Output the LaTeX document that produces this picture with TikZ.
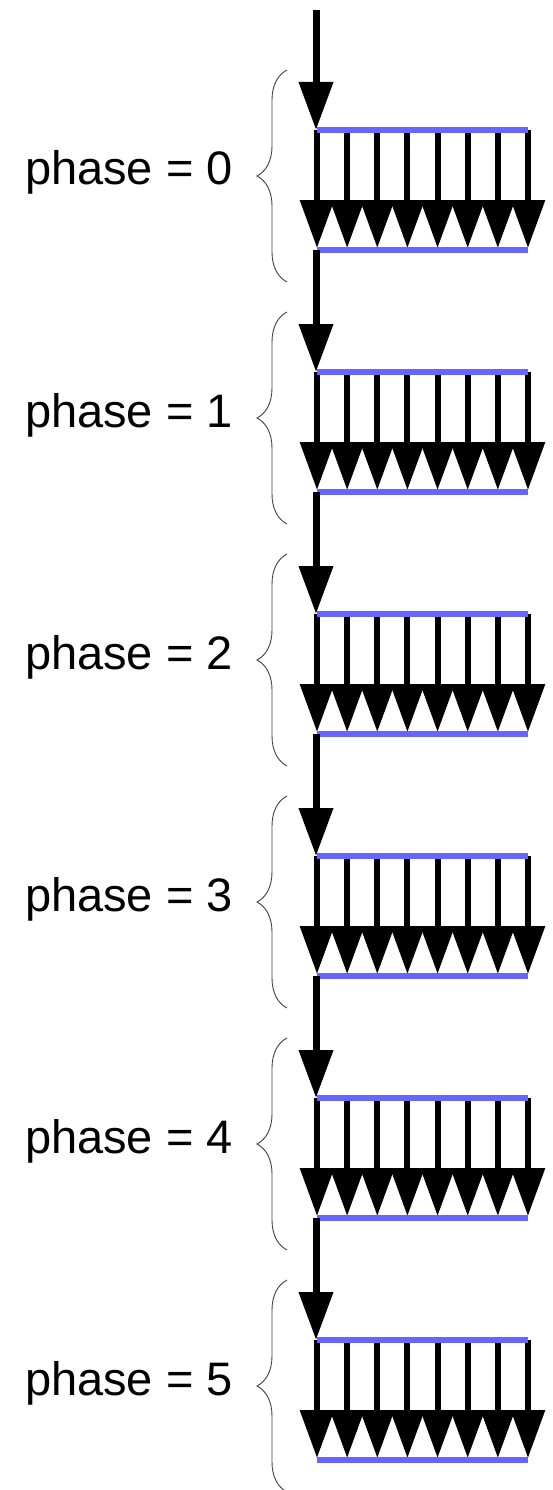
\documentclass[tikz,border=0pt]{standalone}
\usepackage{fontspec}
\setmainfont{Liberation Sans}
\usetikzlibrary{arrows.meta,decorations.pathreplacing}
\definecolor{barblue}{HTML}{6666FF}
\begin{document}
\begin{tikzpicture}[x=1pt,y=-1pt,
  bar/.style={draw=barblue,line width=6pt},
  flow/.style={line width=7pt,-{Triangle[length=48pt,width=33pt]}},
  fan/.style={line width=6pt,-{Triangle[length=48pt,width=33pt]}},
  grp/.style={decorate,decoration={brace,amplitude=30pt},draw=black!75,line width=0.9pt},
  lbl/.style={anchor=base east,inner sep=0pt,font=\fontsize{47pt}{56pt}\selectfont}]
\useasboundingbox (0,0) rectangle (552,1490);
\coordinate (out-1) at (316,10);
\foreach \k [evaluate=\k as \dy using 242*\k, remember=\k as \p (initially -1)] in {0,...,5}{
  \coordinate (in\k) at (316,130+\dy);
  \coordinate (out\k) at (316,250+\dy);
  \coordinate (tl\k) at (317,130+\dy);
  \coordinate (tr\k) at (528,130+\dy);
  \coordinate (bl\k) at (317,250+\dy);
  \coordinate (br\k) at (528,250+\dy);
  \draw[flow] (out\p) -- (in\k);
  \foreach \i in {0,...,7}{
    \coordinate (a\k-\i) at (317+30.14*\i,130+\dy);
    \coordinate (z\k-\i) at (317+30.14*\i,248+\dy);
    \draw[fan] (a\k-\i) -- (z\k-\i);
  }
  \draw[bar] (tl\k) -- (tr\k);
  \draw[bar] (bl\k) -- (br\k);
  \coordinate (gb\k) at (287,282+\dy);
  \coordinate (gt\k) at (287,70+\dy);
  \draw[grp] (gb\k) -- (gt\k);
  \node[lbl] (l\k) at (233,185+\dy) {phase = \k};
}
\end{tikzpicture}
\end{document}
